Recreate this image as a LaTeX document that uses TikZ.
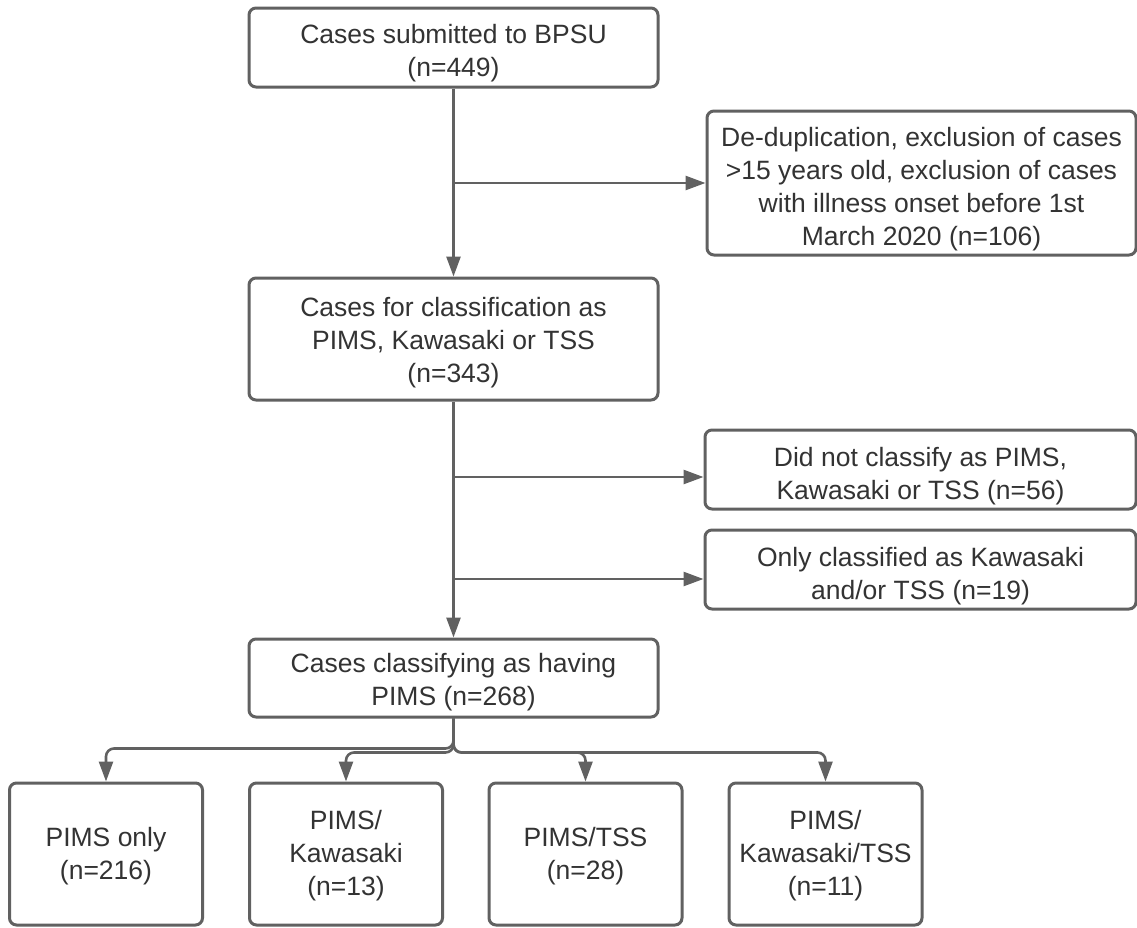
\documentclass[tikz,border=0pt]{standalone}
\usepackage{fontspec}
\setmainfont{Liberation Sans}
\usetikzlibrary{arrows.meta}
\definecolor{linegray}{HTML}{616161}
\definecolor{textgray}{HTML}{333333}
\begin{document}
\begin{tikzpicture}[x=1pt,y=-1pt,
  box/.style={draw=linegray, line width=3pt, rounded corners=7pt, fill=white,
    inner sep=0pt},
  txt/.style={inner sep=0pt, align=center, text=textgray,
    font=\fontsize{26.5}{33}\selectfont},
  arr/.style={draw=linegray, line width=2.6pt,
    -{Triangle[length=20pt,width=14pt]}},
  tree/.style={arr, rounded corners=8pt}]
\useasboundingbox (0,0) rectangle (1137,927);

\node[box, minimum width=409pt, minimum height=79pt] (b1) at (453.5,47.5) {};
\node[txt] (l1) at ([yshift=-6pt]b1.center) {Cases submitted to BPSU\\(n=449)};

\node[box, minimum width=429pt, minimum height=144pt] (b2) at (921.5,183) {};
\node[txt] (l2) at ([yshift=-6pt]b2.center)
  {De-duplication, exclusion of cases\\>15 years old, exclusion of cases\\with illness onset before 1st\\March 2020 (n=106)};

\node[box, minimum width=409pt, minimum height=122pt] (b3) at (453.5,339) {};
\node[txt] (l3) at ([yshift=-4pt]b3.center)
  {Cases for classification as\\PIMS, Kawasaki or TSS\\(n=343)};

\node[box, minimum width=431pt, minimum height=79pt] (b4) at (920.5,469.5) {};
\node[txt] (l4) at ([yshift=-7pt]b4.center)
  {Did not classify as PIMS,\\Kawasaki or TSS (n=56)};

\node[box, minimum width=431pt, minimum height=79pt] (b5) at (920.5,569.5) {};
\node[txt] (l5) at ([yshift=-7pt]b5.center)
  {Only classified as Kawasaki\\and/or TSS (n=19)};

\node[box, minimum width=409pt, minimum height=78pt] (b6) at (453.5,678) {};
\node[txt] (l6) at ([yshift=-4pt]b6.center)
  {Cases classifying as having\\PIMS (n=268)};

\node[box, minimum width=193pt, minimum height=142pt] (b7) at (106,854) {};
\node[txt] (l7) at ([yshift=-2pt]b7.center) {PIMS only\\(n=216)};
\node[box, minimum width=193pt, minimum height=142pt] (b8) at (346,854) {};
\node[txt] (l8) at ([yshift=-2pt]b8.center) {PIMS/\\Kawasaki\\(n=13)};
\node[box, minimum width=193pt, minimum height=142pt] (b9) at (585.5,854) {};
\node[txt] (l9) at ([yshift=-2pt]b9.center) {PIMS/TSS\\(n=28)};
\node[box, minimum width=193pt, minimum height=142pt] (b10) at (825.5,854) {};
\node[txt] (l10) at ([yshift=-2pt]b10.center) {PIMS/\\Kawasaki/TSS\\(n=11)};

\coordinate (t4) at (b4.west |- 0,477);
\coordinate (t5) at (b5.west |- 0,579);

% main spine
\draw[arr] (b1.south) -- (b3.north);
\draw[arr] (b1.south |- b2.west) -- (b2.west);
\draw[arr] (b3.south) -- (b6.north);
\draw[arr] (b3.south |- t4) -- (t4);
\draw[arr] (b3.south |- t5) -- (t5);

% bottom tree
\draw[tree] (b6.south) -- ++(0,30) -| (b7.north);
\draw[tree] (b6.south) -- ++(0,34) -| (b8.north);
\draw[tree] (b6.south) -- ++(0,34) -| (b9.north);
\draw[tree] (b6.south) -- ++(0,34) -| (b10.north);
\end{tikzpicture}
\end{document}
